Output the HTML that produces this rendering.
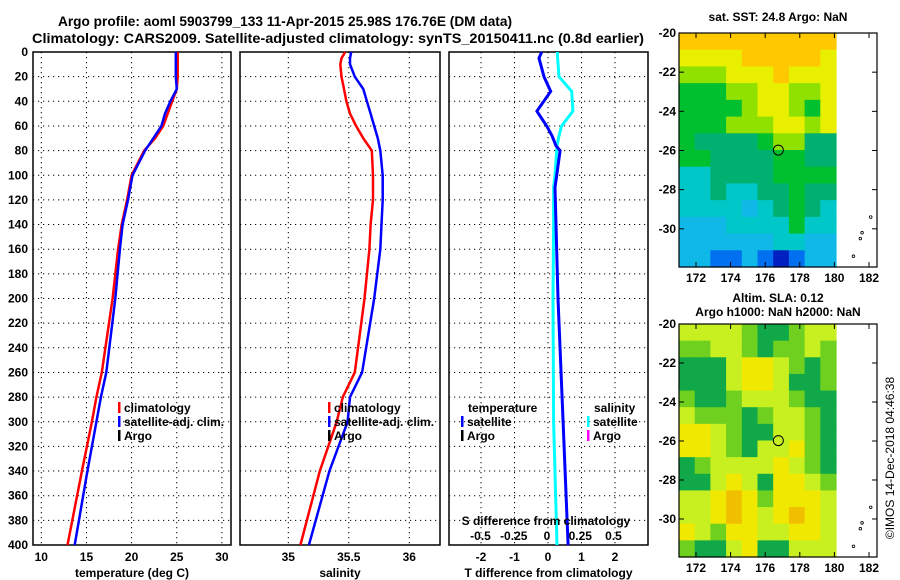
<!DOCTYPE html>
<html><head><meta charset="utf-8"><style>
body{margin:0;background:#fff}
svg{display:block;font-family:"Liberation Sans",sans-serif;font-weight:bold}
</style></head><body>
<svg id="fig" width="900" height="580" viewBox="0 0 900 580" xmlns="http://www.w3.org/2000/svg">
<text x="285" y="26" text-anchor="middle" font-size="14" textLength="454" lengthAdjust="spacingAndGlyphs">Argo profile: aoml 5903799_133 11-Apr-2015 25.98S 176.76E (DM data)</text>
<text x="338" y="43" text-anchor="middle" font-size="14" textLength="612" lengthAdjust="spacingAndGlyphs">Climatology: CARS2009. Satellite-adjusted climatology: synTS_20150411.nc (0.8d earlier)</text>
</svg>
<script>
// ---------- data ----------
const depths = [0,5,10,20,30,40,50,60,70,80,100,120,140,160,200,260,280,300,340,400];
const tempClim = [25.1,25.1,25.1,25.1,25.0,24.5,24.0,23.5,22.6,21.4,20.0,19.5,18.9,18.5,17.9,16.7,16.1,15.6,14.5,12.9];
const tempSat  = [24.9,24.9,24.9,24.9,25.0,24.3,23.7,23.3,22.4,21.5,20.1,19.6,19.0,18.7,18.2,17.2,16.6,16.1,15.1,13.7];
const salClim = [35.47,35.44,35.43,35.44,35.46,35.48,35.51,35.56,35.62,35.69,35.70,35.70,35.68,35.67,35.63,35.55,35.45,35.40,35.26,35.10];
const salSat  = [35.52,35.51,35.51,35.55,35.62,35.65,35.68,35.71,35.74,35.76,35.78,35.78,35.77,35.76,35.71,35.61,35.51,35.49,35.34,35.17];
const diffDepths = [0,5,20,32,48,60,68,76,80,100,110,140,200,300,400];
const tDiff = [-0.19,-0.27,-0.12,0.08,-0.33,-0.04,0.12,0.24,0.36,0.26,0.21,0.24,0.30,0.45,0.60];
const sDiff = [0.078,0.08,0.09,0.186,0.195,0.11,0.09,0.075,0.073,0.06,0.05,0.05,0.045,0.05,0.075];
const depthTicks = [0,20,40,60,80,100,120,140,160,180,200,220,240,260,280,300,320,340,360,380,400];
const tempTicks = [10,15,20,25,30];
const salTicks = [35,35.5,36];
const tdTicks = [-2,-1,0,1,2];
const sdTicks = [-0.5,-0.25,0,0.25,0.5];
const sdTickLabels = ["-0.5","-0.25","0","0.25","0.5"];
const lonTicks = [172,174,176,178,180,182];
const latTicks = [-20,-22,-24,-26,-28,-30];
const sstGrid = [
[8,8,8,8,8,8,8,8,8,8],
[7,7,7,7,8,8,8,8,8,7],
[6,6,6,7,7,7,8,7,7,7],
[5,5,5,6,6,7,7,6,6,7],
[5,5,5,5,6,7,7,6,5,7],
[5,5,5,6,6,6,7,7,6,7],
[5,4,4,4,4,5,6,6,4,4],
[5,5,4,4,4,4,5,5,4,4],
[3,3,4,4,4,4,5,5,5,5],
[3,3,4,3,3,4,4,5,4,4],
[3,3,3,3,2,3,4,5,4,3],
[2,2,2,3,3,3,3,5,3,3],
[2,2,2,2,2,2,3,3,2,2],
[2,2,1,1,2,1,0,1,2,2]];
const slaGrid = [
[2,2,2,2,1,0,0,1,2,2],
[1,1,2,2,1,0,1,1,2,1],
[0,0,0,2,3,3,2,1,0,1],
[0,0,0,2,3,3,2,0,0,1],
[1,0,0,1,2,2,2,1,0,0],
[2,1,1,1,0,1,2,2,1,0],
[3,3,2,1,0,0,2,2,1,0],
[3,3,2,1,0,2,2,3,1,0],
[0,1,2,2,2,2,3,2,1,0],
[0,0,2,3,2,0,3,3,2,1],
[2,2,3,4,3,1,3,3,3,2],
[2,2,3,4,3,2,3,4,3,2],
[3,2,1,3,3,2,2,3,3,2],
[1,0,0,2,3,0,0,2,2,2]];
const argoLon = 176.76, argoLat = -25.98;

// ---------- helpers ----------
const NS="http://www.w3.org/2000/svg";
const svg=document.getElementById('fig');
function el(tag,attrs,parent){const e=document.createElementNS(NS,tag);for(const k in attrs)e.setAttribute(k,attrs[k]);(parent||svg).appendChild(e);return e;}
function txt(x,y,s,size,anchor,parent){const t=el('text',{x:x,y:y,'font-size':size,'text-anchor':anchor||'start'},parent);t.textContent=s;return t;}
const Y0=52,Y1=545;
const yD=d=>Y0+(d/400)*(Y1-Y0);

function panel(name,x0,x1,xs,xticks,xlabels,title){
  const g=el('g',{});
  
  
  depthTicks.forEach(d=>{ if(d>0&&d<400){const l=el('line',{x1:x0,x2:x1,y1:yD(d),y2:yD(d),stroke:'#000','stroke-dasharray':'1.2,3.8','stroke-width':1},g);
    }});
  xticks.forEach((v,i)=>{const x=xs(v);const l=el('line',{x1:x,x2:x,y1:Y0,y2:Y1,stroke:'#000','stroke-dasharray':'1.2,3.8','stroke-width':1},g);
    
    const t=txt(x,561,xlabels[i],12,'middle',g);});
  const r=el('rect',{x:x0,y:Y0,width:x1-x0,height:Y1-Y0,fill:'none',stroke:'#000','stroke-width':1.5},g);
  
  const t=txt((x0+x1)/2,577,title,12,'middle',g);
  return g;
}
function line(g,xs,vals,ds,color,name,w){
  const pts=vals.map((v,i)=>xs(v).toFixed(1)+','+yD(ds[i]).toFixed(1)).join(' ');
  const p=el('polyline',{points:pts,fill:'none',stroke:color,'stroke-width':w||2.5},g);
  
}
function legend(g,x,y,color,label){
  const r=el('rect',{x:x,y:y-10,width:2.5,height:11,fill:color},g);
  
  const t=txt(x+6,y,label,12,'start',g);
}

// y tick labels
depthTicks.forEach(d=>{const t=txt(28,yD(d)+4,String(d),12,'end');});

// panel 1: temperature
const xT=v=>41.3+(v-10)*9.03;
const g1=panel('temperature-panel',33,231,xT,tempTicks,tempTicks.map(String),'temperature (deg C)');
line(g1,xT,tempClim,depths,'#ff0000','temp-climatology-line');
line(g1,xT,tempSat,depths,'#0000ff','temp-satellite-line');
legend(g1,118,412,'#ff0000','climatology');
legend(g1,118,426,'#0000ff','satellite-adj. clim.');
legend(g1,118,440,'#000000','Argo');

// panel 2: salinity
const xS=v=>288.3+(v-35)*121;
const g2=panel('salinity-panel',240,440,xS,salTicks,['35','35.5','36'],'salinity');
line(g2,xS,salClim,depths,'#ff0000','sal-climatology-line');
line(g2,xS,salSat,depths,'#0000ff','sal-satellite-line');
legend(g2,328,412,'#ff0000','climatology');
legend(g2,328,426,'#0000ff','satellite-adj. clim.');
legend(g2,328,440,'#000000','Argo');

// panel 3: differences
const xTD=v=>548+v*33.5;
const xSD=v=>547+v*133;
const g3=panel('difference-panel',449,648,xTD,tdTicks,tdTicks.map(String),'T difference from climatology');
line(g3,xSD,sDiff,diffDepths,'#00ffff','salinity-diff-line',3);
line(g3,xTD,tDiff,diffDepths,'#0000ff','temp-diff-line',3);
let t1=txt(468,412,'temperature',12,'start',g3);
let t2=txt(594,412,'salinity',12,'start',g3);
legend(g3,461,426,'#0000ff','satellite');
legend(g3,461,440,'#000000','Argo');
legend(g3,587,426,'#00ffff','satellite');
legend(g3,587,440,'#ff00ff','Argo');
let st=txt(546,525,'S difference from climatology',12,'middle',g3);
sdTicks.forEach((v,i)=>{const t=txt(xSD(v),540,sdTickLabels[i],12,'middle',g3);});

// ---------- maps ----------
const sstColors=['#0020c0','#0070f0','#10b8e8','#00c8c8','#00b070','#00c030','#90e000','#e8f000','#ffc800'];
const slaColors=['#10a848','#70d020','#c8f020','#f0e800','#f0c000'];
function map(name,top,bottom,grid,colors,titles,titleYs){
  const g=el('g',{});
  
  const L=679,R=877,imgR=836;
  const lx=v=>696+(v-172)*17.3;
  const ly=v=>top+(-20-v)*((bottom-top)/11.95);
  const nr=grid.length,nc=grid[0].length;
  const cw=(imgR-L)/nc,ch=(bottom-top)/nr;
  grid.forEach((row,i)=>row.forEach((v,j)=>{
    const c=el('rect',{x:(L+j*cw).toFixed(2),y:(top+i*ch).toFixed(2),width:(cw+0.6).toFixed(2),height:(ch+0.6).toFixed(2),fill:colors[v]},g);
    
  }));
  const b=el('rect',{x:L,y:top,width:R-L,height:bottom-top,fill:'none',stroke:'#000','stroke-width':1.2},g);
  
  lonTicks.forEach(v=>{const x=lx(v);el('line',{x1:x,x2:x,y1:bottom,y2:bottom-5,stroke:'#000'},g);el('line',{x1:x,x2:x,y1:top,y2:top+5,stroke:'#000'},g);
    const t=txt(x,bottom+15,String(v),12,'middle',g);});
  latTicks.forEach(v=>{const y=ly(v);el('line',{x1:L,x2:L+5,y1:y,y2:y,stroke:'#000'},g);el('line',{x1:R,x2:R-5,y1:y,y2:y,stroke:'#000'},g);
    const t=txt(676,y+4,String(v),12,'end',g);});
  const c=el('circle',{cx:lx(argoLon),cy:ly(argoLat),r:5,fill:'none',stroke:'#000','stroke-width':1},g);
  
  [[182.1,-29.4],[181.6,-30.2],[181.5,-30.5],[181.1,-31.4]].forEach(p=>{el('circle',{cx:lx(p[0]),cy:ly(p[1]),r:1.3,fill:'none',stroke:'#000','stroke-width':0.8},g);});
  titles.forEach((s,i)=>{const t=txt(778,titleYs[i],s,12,'middle',g);});
}
map('sst-map',33,267,sstGrid,sstColors,['sat. SST: 24.8 Argo: NaN'],[21]);
map('sla-map',324,557,slaGrid,slaColors,['Altim. SLA: 0.12','Argo h1000: NaN h2000: NaN'],[302,316]);
const cr=txt(0,0,'\u00a9IMOS 14-Dec-2018 04:46:38',12,'middle');
cr.setAttribute('transform','translate(894,458) rotate(-90)');
cr.setAttribute('font-weight','normal');


</script>
</body></html>
